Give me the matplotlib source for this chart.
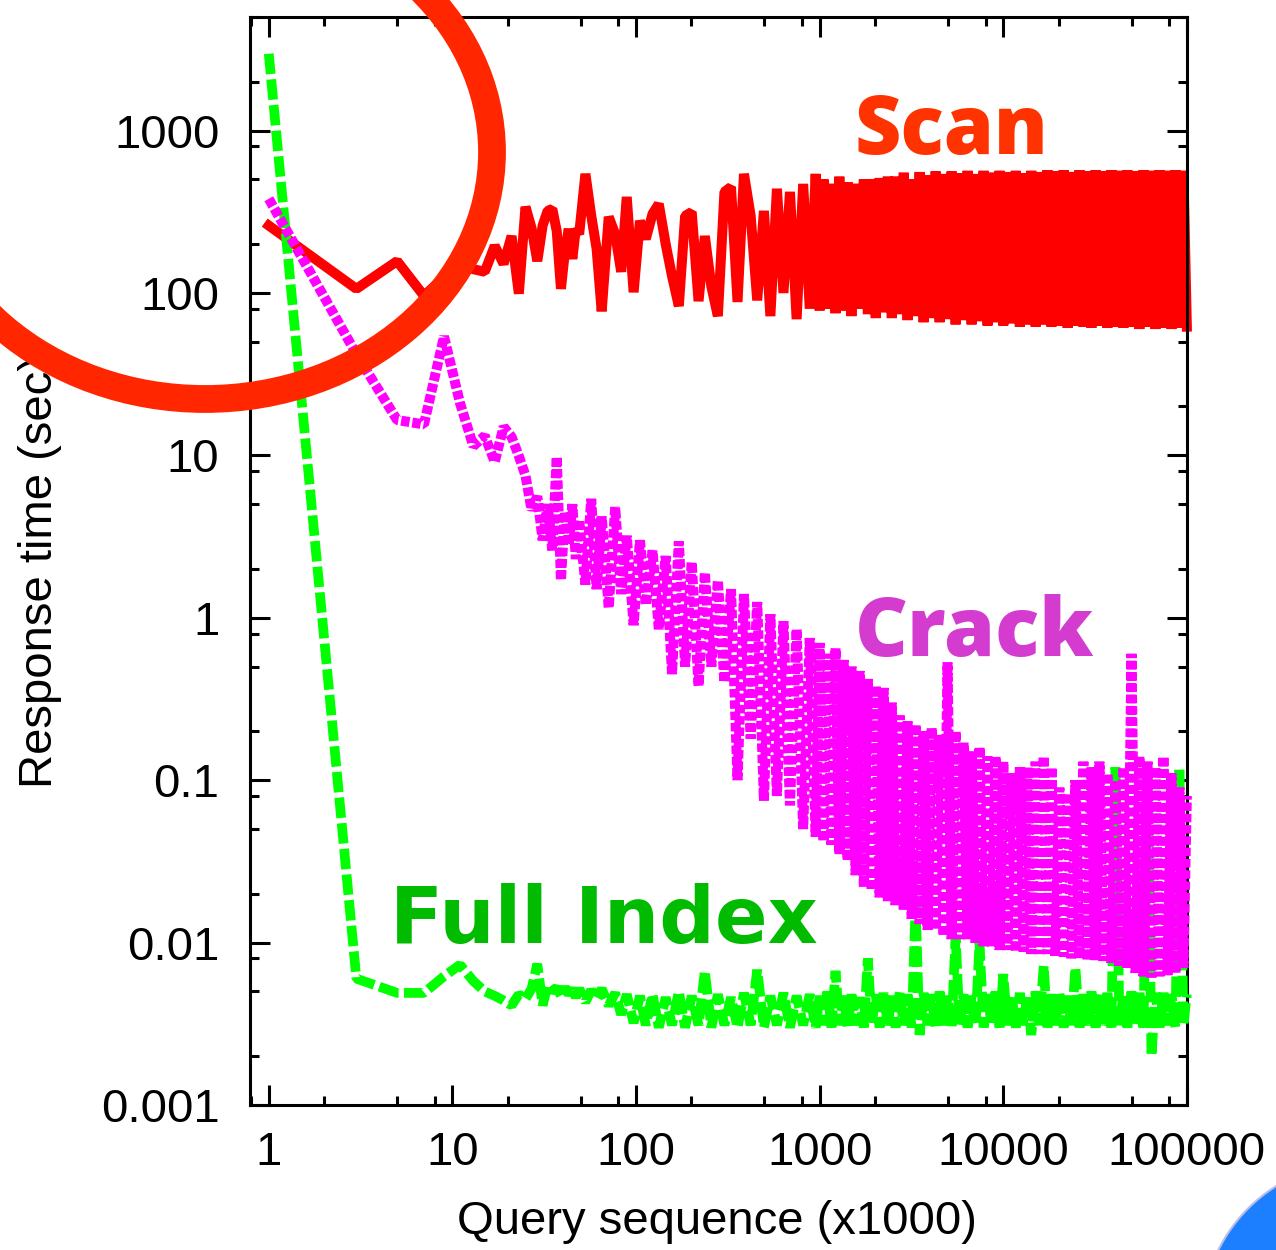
import matplotlib
matplotlib.use("Agg")
import matplotlib.pyplot as plt
from matplotlib.patches import Ellipse
from matplotlib.ticker import LogLocator, NullFormatter

plt.rcParams["font.family"] = ["Liberation Sans", "DejaVu Sans"]

# query sequence (x1000), shared by the three runs
queries = [
    1, 3, 5, 7, 9, 11, 13, 15, 17, 19,
    21, 23, 25, 27, 29, 31, 33, 35, 37, 39,
    41, 43, 45, 47, 49, 53, 57, 61, 65, 71,
    77, 83, 89, 97, 105, 113, 123, 133, 145, 157,
    171, 185, 201, 219, 237, 257, 279, 303, 329, 357,
    387, 421, 457, 497, 539, 585, 635, 689, 749, 813,
    883, 951, 1000, 1050, 1100, 1160, 1220, 1280, 1350, 1420,
    1490, 1570, 1650, 1740, 1830, 1920, 2020, 2120, 2230, 2350,
    2470, 2590, 2730, 2870, 3010, 3170, 3330, 3500, 3680, 3870,
    4070, 4280, 4500, 4730, 4970, 5230, 5500, 5780, 6080, 6390,
    6720, 7060, 7420, 7810, 8210, 8630, 9070, 9540, 10000, 10500,
    11100, 11700, 12300, 12900, 13500, 14200, 15000, 15700, 16600, 17400,
    18300, 19200, 20200, 21300, 22400, 23500, 24700, 26000, 27300, 28700,
    30200, 31800, 33400, 35100, 36900, 38800, 40800, 42900, 45100, 47400,
    49900, 52500, 55100, 58000, 61000, 64100, 67400, 70900, 74500, 78300,
    82400, 86600, 91000, 95700, 99900,
]

# response time (sec)
scan = [
    260, 106, 157, 96, 125, 160, 140, 135, 195, 151,
    224, 99, 339, 250, 157, 260, 320, 329, 240, 106,
    180, 248, 162, 248, 230, 541, 300, 187, 77, 294,
    230, 135, 390, 101, 278, 215, 307, 353, 200, 127,
    83, 298, 315, 89, 224, 110, 72, 419, 449, 88,
    541, 298, 90, 320, 72, 438, 100, 419, 69, 469,
    80, 541, 78, 500, 80, 470, 75, 520, 78, 480,
    72, 470, 80, 500, 74, 500, 70, 510, 76, 520,
    70, 520, 74, 550, 68, 500, 72, 555, 66, 530,
    70, 560, 66, 540, 69, 560, 64, 545, 68, 565,
    64, 540, 67, 565, 63, 550, 66, 565, 63, 555,
    65, 565, 62, 545, 64, 565, 62, 555, 64, 570,
    62, 560, 63, 570, 61, 555, 63, 570, 62, 560,
    61, 570, 63, 560, 61, 570, 62, 565, 61, 570,
    62, 560, 60, 570, 62, 565, 60, 570, 61, 565,
    60, 570, 61, 565, 62,
]

crack = [
    380, 42, 16.5, 15.5, 54, 21, 11.4, 13.2, 9.1, 15,
    13, 9.9, 7.5, 4.6, 5.6, 3.0, 5.0, 2.6, 9.8, 1.7,
    4.5, 2.8, 5.0, 2.3, 4.0, 1.6, 5.4, 1.5, 4.2, 1.15,
    4.8, 1.4, 3.2, 0.9, 3.0, 1.2, 2.6, 0.85, 2.4, 0.45,
    2.95, 0.5, 2.2, 0.38, 1.9, 0.5, 1.7, 0.4, 1.5, 0.1,
    1.4, 0.18, 1.25, 0.075, 1.05, 0.08, 0.95, 0.07, 0.85, 0.05,
    0.75, 0.045, 0.7, 0.042, 0.6, 0.04, 0.65, 0.035, 0.55, 0.032,
    0.5, 0.026, 0.47, 0.022, 0.42, 0.021, 0.38, 0.019, 0.37, 0.018,
    0.3, 0.017, 0.25, 0.016, 0.23, 0.014, 0.22, 0.013, 0.2, 0.012,
    0.21, 0.012, 0.19, 0.011, 0.53, 0.0105, 0.2, 0.0105, 0.17, 0.0105,
    0.15, 0.010, 0.16, 0.0095, 0.14, 0.0095, 0.14, 0.009, 0.13, 0.009,
    0.11, 0.0088, 0.12, 0.0088, 0.12, 0.0085, 0.13, 0.0085, 0.14, 0.0085,
    0.12, 0.0083, 0.09, 0.0082, 0.083, 0.008, 0.1, 0.008, 0.13, 0.0078,
    0.12, 0.0078, 0.13, 0.0077, 0.11, 0.0075, 0.1, 0.0072, 0.12, 0.007,
    0.6, 0.0065, 0.14, 0.0062, 0.13, 0.0061, 0.12, 0.0062, 0.14, 0.0063,
    0.11, 0.0065, 0.09, 0.007, 0.08,
]

full_index = [
    2970, 0.0060, 0.0049, 0.0049, 0.0062, 0.0073, 0.0058, 0.0050, 0.0047, 0.0044,
    0.0041, 0.0048, 0.0045, 0.0052, 0.0074, 0.0041, 0.0055, 0.0050, 0.0053, 0.0047,
    0.0053, 0.0048, 0.0052, 0.0046, 0.0052, 0.0043, 0.0051, 0.0045, 0.0052, 0.0041,
    0.0049, 0.0036, 0.0048, 0.0032, 0.0047, 0.0031, 0.0048, 0.0030, 0.0046, 0.0031,
    0.0050, 0.0030, 0.0047, 0.0031, 0.0067, 0.0030, 0.0048, 0.0031, 0.0046, 0.0030,
    0.0049, 0.0031, 0.0068, 0.0030, 0.0047, 0.0031, 0.0049, 0.0030, 0.0047, 0.0031,
    0.0048, 0.0030, 0.0047, 0.0031, 0.0050, 0.0030, 0.0067, 0.0031, 0.0047, 0.0030,
    0.0048, 0.0031, 0.0046, 0.0030, 0.0080, 0.0031, 0.0048, 0.0030, 0.0049, 0.0031,
    0.0047, 0.0030, 0.0050, 0.0031, 0.0048, 0.0030, 0.017, 0.0027, 0.0049, 0.0031,
    0.0048, 0.0030, 0.0050, 0.0031, 0.0047, 0.0030, 0.011, 0.0031, 0.0048, 0.0030,
    0.0047, 0.0031, 0.010, 0.0030, 0.0048, 0.0031, 0.0050, 0.0030, 0.0064, 0.0031,
    0.0047, 0.0030, 0.0049, 0.0031, 0.0048, 0.0027, 0.0050, 0.0031, 0.0072, 0.0030,
    0.0048, 0.0031, 0.0049, 0.0030, 0.0047, 0.0031, 0.0070, 0.0030, 0.0048, 0.0031,
    0.0050, 0.0030, 0.0048, 0.0031, 0.0049, 0.0030, 0.12, 0.0031, 0.0048, 0.0030,
    0.0050, 0.0031, 0.0049, 0.0030, 0.12, 0.0020, 0.0049, 0.0030, 0.0049, 0.0031,
    0.0048, 0.0030, 0.12, 0.0031, 0.0048,
]

x_ticks = [1, 10, 100, 1000, 10000, 100000]
x_labels = ["1", "10", "100", "1000", "10000", "100000"]
y_ticks = [0.001, 0.01, 0.1, 1, 10, 100, 1000]
y_labels = ["0.001", "0.01", "0.1", "1", "10", "100", "1000"]

fig = plt.figure(figsize=(12.76, 12.5), dpi=100)
ax = fig.add_axes([0.1959, 0.116, 0.7343, 0.8704])

ax.plot(queries, scan, color="#ff0000", lw=7.2, solid_joinstyle="bevel",
        clip_on=False, zorder=2)
ax.plot(queries, full_index, color="#00ff00", lw=7.0, dashes=(2.1, 0.55),
        dash_joinstyle="bevel", clip_on=False, zorder=3)
ax.plot(queries, crack, color="#ff00ff", lw=7.2, dashes=(0.85, 0.28),
        dash_joinstyle="bevel", clip_on=False, zorder=4)

ax.set_xscale("log")
ax.set_yscale("log")
ax.set_xlim(0.79, 100000)
ax.set_ylim(0.001, 5000)

ax.set_xticks(x_ticks)
ax.set_xticklabels(x_labels)
ax.set_yticks(y_ticks)
ax.set_yticklabels(y_labels)
ax.xaxis.set_minor_locator(LogLocator(base=10, subs=(2, 5, 8), numticks=20))
ax.yaxis.set_minor_locator(LogLocator(base=10, subs=(2, 5, 8), numticks=20))
ax.xaxis.set_minor_formatter(NullFormatter())
ax.yaxis.set_minor_formatter(NullFormatter())

ax.tick_params(which="both", direction="in", top=True, right=True, width=2.2,
               labelsize=34, colors="black")
ax.tick_params(which="major", length=14.5)
ax.tick_params(which="minor", length=6.5)
ax.tick_params(axis="x", pad=19)
ax.tick_params(axis="y", pad=22)
for s in ax.spines.values():
    s.set_linewidth(2.2)

fig.text(717 / 1276, 1 - 1222 / 1250, "Query sequence (x1000)", fontsize=34,
         ha="center", va="center")
fig.text(40 / 1276, 1 - 572 / 1250, "Response time (sec)", fontsize=34,
         rotation=90, ha="center", va="center", zorder=3)

ax.text(1556, 718, "Scan", color="#ff3300", fontsize=58,
        fontfamily="Open Sans", fontweight="heavy", ha="left",
        va="baseline", zorder=6)
ax.text(1556, 0.58, "Crack", color="#d43bcf", fontsize=59,
        fontfamily="Open Sans", fontweight="heavy", ha="left",
        va="baseline", zorder=6)
ax.text(4.56, 0.01, "Full Index", color="#00bb00", fontsize=56,
        fontfamily="DejaVu Sans", fontweight="bold", ha="left", va="baseline",
        zorder=6)

# hand-drawn highlight circle and the corner of a logo
ring = Ellipse((205 / 1276, 1 - 152 / 1250), 574 / 1276, 494 / 1250,
               transform=fig.transFigure, fill=False, ec="#ff2600", lw=20,
               zorder=10)
fig.add_artist(ring)
blob = Ellipse((1360 / 1276, 1 - 1320 / 1250), 316 / 1276, 316 / 1250,
               transform=fig.transFigure, fc="#1b7fff", ec="#b8bde6", lw=1.5,
               zorder=10)
fig.add_artist(blob)

fig.savefig("out.png", dpi=100)
